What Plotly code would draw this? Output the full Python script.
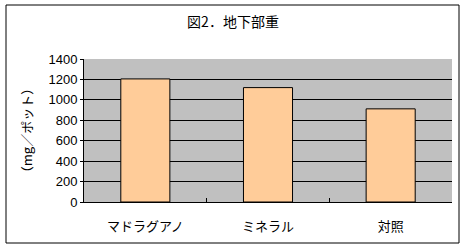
import plotly.graph_objects as go

categories = ["マドラグアノ", "ミネラル", "対照"]
values = [1205, 1120, 912]
title_text = "図2．地下部重"
y_title = "（mg／ポット）"

W, H = 466, 249
ml, mr, mt, mb = 84, 14, 59, 47
pw, ph = W - ml - mr, H - mt - mb

def px_x(p):
    return (p - ml) / pw

def px_y(p):
    return (H - mb - p) / ph

font_fam = "Liberation Sans, Arial, Noto Sans CJK JP, sans-serif"
jp = "Noto Sans CJK JP, sans-serif"

fig = go.Figure(go.Bar(
    x=categories, y=values, width=0.4,
    marker=dict(color="#FFCC99", line=dict(color="black", width=1)),
))

fig.update_layout(
    width=W, height=H,
    margin=dict(l=ml, r=mr, t=mt, b=mb),
    paper_bgcolor="white", plot_bgcolor="#C0C0C0",
    showlegend=False,
    font=dict(family=font_fam, size=13, color="black"),
    title=dict(text=title_text, x=0.5, xanchor="center", y=1 - 22 / H, yanchor="middle",
               font=dict(family=jp, size=14, color="black")),
    shapes=[dict(type="rect", xref="paper", yref="paper",
                 x0=px_x(6), x1=px_x(459), y0=px_y(243), y1=px_y(5),
                 line=dict(color="black", width=1), fillcolor="rgba(0,0,0,0)", layer="below")],
)

fig.update_xaxes(
    showline=True, linecolor="black", linewidth=1,
    ticks="inside", ticklen=4, tickcolor="black", tickson="boundaries",
    tickfont=dict(family=jp, size=13),
    ticklabelstandoff=12,
    showgrid=False,
)
fig.update_yaxes(
    range=[0, 1400], dtick=200,
    showline=True, linecolor="black", linewidth=1,
    showgrid=True, gridcolor="black", gridwidth=1,
    ticks="outside", ticklen=3, tickcolor="black",
    tickfont=dict(size=13),
    zeroline=False,
    title=dict(text=y_title, font=dict(family=jp, size=13), standoff=12),
)

fig.write_html("out.html")
